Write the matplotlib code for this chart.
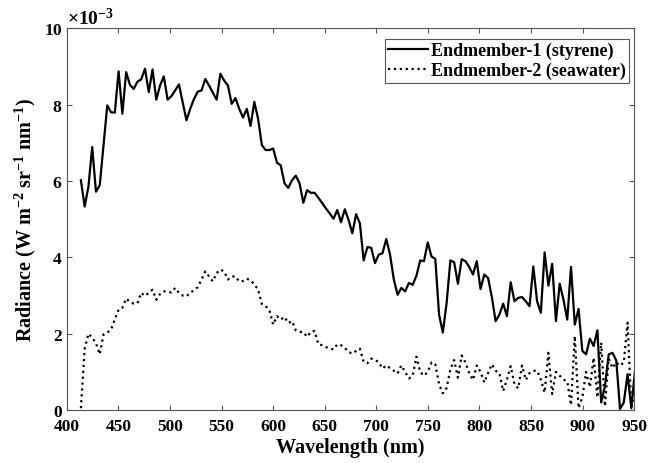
import numpy as np
import matplotlib
matplotlib.use('Agg')
import matplotlib.pyplot as plt
from matplotlib.ticker import ScalarFormatter

plt.rcParams['font.family'] = ['Liberation Serif', 'DejaVu Serif']
plt.rcParams['font.weight'] = 'bold'
plt.rcParams['mathtext.fontset'] = 'custom'
plt.rcParams['mathtext.rm'] = 'Liberation Serif:bold'
plt.rcParams['mathtext.it'] = 'Liberation Serif:bold'
plt.rcParams['mathtext.bf'] = 'Liberation Serif:bold'

# band centres (nm): first band and spacing of the sensor
wl_start = 413.6
wl_step = 3.655

# radiance in units of 1e-3 W m-2 sr-1 nm-1
styrene = [
    6.02, 5.33, 5.85, 6.89, 5.72, 5.89, 6.95, 7.98, 7.80, 7.79,
    8.87, 7.76, 8.85, 8.52, 8.41, 8.60, 8.66, 8.94, 8.33, 8.92,
    8.13, 8.50, 8.74, 8.13, 8.22, 8.37, 8.53, 8.06, 7.59, 7.89,
    8.15, 8.34, 8.37, 8.67, 8.50, 8.31, 8.13, 8.81, 8.63, 8.50,
    8.02, 8.17, 7.89, 7.66, 7.89, 7.44, 8.07, 7.63, 6.94, 6.81,
    6.81, 6.85, 6.48, 6.41, 5.94, 5.82, 6.02, 6.14, 5.94, 5.43,
    5.76, 5.69, 5.69, 5.56, 5.42, 5.28, 5.15, 5.01, 5.24, 4.92,
    5.26, 4.98, 4.63, 5.13, 4.89, 3.92, 4.27, 4.25, 3.85, 4.07,
    4.11, 4.48, 4.07, 3.42, 3.02, 3.20, 3.11, 3.33, 3.28, 3.52,
    3.92, 3.90, 4.39, 4.02, 3.96, 2.50, 2.03, 2.80, 3.92, 3.87,
    3.31, 3.95, 3.90, 3.75, 3.55, 3.90, 3.17, 3.55, 3.46, 2.96,
    2.33, 2.50, 2.79, 2.46, 3.35, 2.85, 2.94, 2.96, 2.85, 2.72,
    3.76, 2.85, 2.55, 4.13, 3.26, 3.83, 2.33, 3.31, 2.89, 2.37,
    3.75, 2.24, 2.65, 1.55, 1.46, 1.87, 1.68, 2.09, 0.20, 0.63,
    1.46, 1.50, 1.30, 0.03, 0.20, 0.94, 0.05, 1.07,
]

seawater = [
    0.05, 1.60, 2.00, 1.90, 1.75, 1.46, 1.98, 2.03, 2.11, 2.37,
    2.63, 2.68, 2.92, 2.83, 2.79, 2.80, 3.07, 2.99, 3.07, 3.15,
    2.89, 3.04, 3.11, 3.10, 3.08, 3.20, 3.07, 3.00, 2.98, 3.07,
    3.14, 3.22, 3.42, 3.63, 3.50, 3.37, 3.59, 3.68, 3.63, 3.42,
    3.50, 3.50, 3.37, 3.38, 3.44, 3.40, 3.29, 3.16, 2.78, 2.72,
    2.62, 2.24, 2.46, 2.37, 2.44, 2.28, 2.33, 2.09, 2.05, 2.04,
    1.92, 2.05, 2.07, 1.72, 1.70, 1.65, 1.61, 1.59, 1.72, 1.70,
    1.63, 1.52, 1.48, 1.55, 1.61, 1.26, 1.23, 1.35, 1.32, 1.25,
    1.09, 1.17, 1.10, 1.03, 0.96, 1.17, 1.00, 0.83, 0.90, 1.40,
    1.00, 0.90, 1.00, 1.25, 1.20, 0.68, 0.44, 0.58, 1.07, 1.31,
    0.85, 1.43, 1.25, 0.97, 0.79, 1.17, 1.00, 0.72, 0.97, 1.20,
    1.03, 0.97, 0.50, 0.80, 1.15, 0.68, 0.57, 1.17, 0.79, 0.97,
    1.03, 1.03, 0.80, 0.46, 1.50, 0.42, 1.00, 0.90, 0.80, 0.75,
    0.13, 1.94, 0.05, 0.33, 1.00, 0.60, 1.37, 0.33, 1.77, 0.10,
    1.35, 1.10, 1.25, 1.16, 1.25, 2.29, 0.05, 0.60,
]

wavelength = wl_start + wl_step * np.arange(len(styrene))
styrene = np.array(styrene) * 1e-3
seawater = np.array(seawater) * 1e-3

fig = plt.figure(figsize=(6.62, 4.64), dpi=100)
ax = fig.add_axes([0.101, 0.114, 0.857, 0.823])

ax.plot(wavelength, styrene, color='black', lw=1.6, label='Endmember-1 (styrene)')
ax.plot(wavelength, seawater, color='black', lw=1.6, ls=':', label='Endmember-2 (seawater)')

ax.set_xlim(400, 950)
ax.set_ylim(0, 0.01)
ax.set_xticks(np.arange(400, 951, 50))
ax.set_yticks(np.arange(0, 0.0101, 0.002))

fmt = ScalarFormatter(useMathText=True)
fmt.set_powerlimits((-3, -3))
ax.yaxis.set_major_formatter(fmt)
ax.yaxis.get_offset_text().set_fontsize(14)

ax.tick_params(direction='in', top=True, right=True, length=3.6, width=0.8,
               labelsize=12.5, color='#555555')
ax.tick_params(axis='x', pad=6)
ax.tick_params(axis='y', pad=3)
for s in ax.spines.values():
    s.set_color('#555555')
    s.set_linewidth(0.8)

ax.set_xlabel('Wavelength (nm)', fontsize=14.5, fontweight='bold', labelpad=2)
ax.set_ylabel('Radiance (W m$^{-2}$ sr$^{-1}$ nm$^{-1}$)', fontsize=14.5,
              fontweight='bold', labelpad=4)

leg = ax.legend(loc='upper right', bbox_to_anchor=(0.991, 0.973), fontsize=13,
                handlelength=2.2, fancybox=False, framealpha=1, borderaxespad=0,
                borderpad=0.2, labelspacing=0.15, handletextpad=0.15)
leg.get_frame().set_edgecolor('#555555')
leg.get_frame().set_linewidth(0.8)

fig.savefig('out.png', dpi=100)
